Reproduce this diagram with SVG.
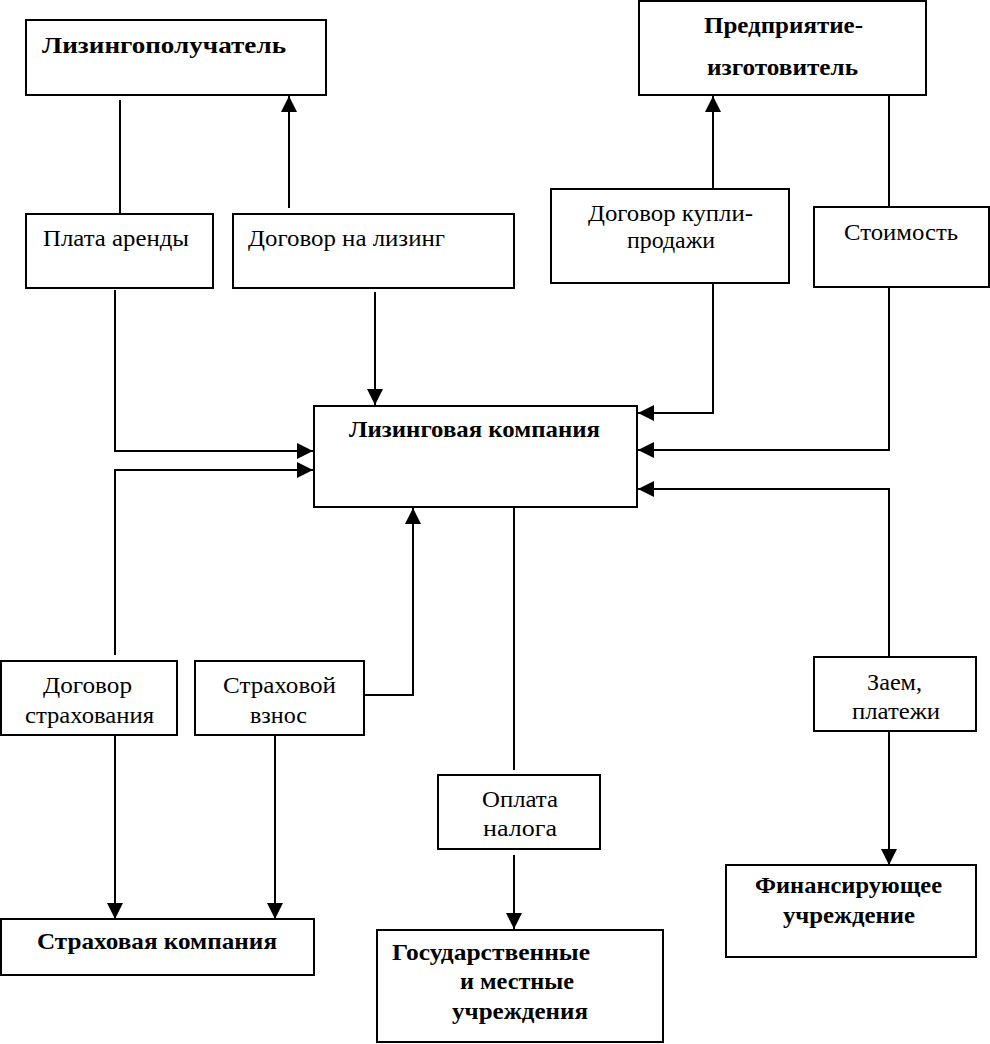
<svg xmlns="http://www.w3.org/2000/svg" width="990" height="1044" viewBox="0 0 990 1044" font-family="Liberation Serif, serif">
<style>
rect{fill:#fff;stroke:#000;stroke-width:2}
text{font-family:"Liberation Serif","Times New Roman",serif;font-size:24px;fill:#000}
.b{font-weight:bold}
#connectors path,#connectors line{fill:none;stroke:#000;stroke-width:2}
</style>
<defs>
<marker id="ah" markerWidth="16" markerHeight="16" refX="16" refY="8" orient="auto" markerUnits="userSpaceOnUse">
<path d="M0,0 L16,8 L0,16 Z" fill="#000"/>
</marker>
</defs>
<rect x="0" y="0" width="990" height="1044" style="stroke:none"/>
<g id="connectors">
<line x1="120" y1="100" x2="120" y2="214"/>
<line x1="289" y1="208" x2="289" y2="96" marker-end="url(#ah)"/>
<line x1="375" y1="292" x2="375" y2="405" marker-end="url(#ah)"/>
<path d="M115,290 V451 H313" marker-end="url(#ah)"/>
<path d="M115,655 V470 H313" marker-end="url(#ah)"/>
<path d="M364,695 H413 V508" marker-end="url(#ah)"/>
<line x1="713" y1="189" x2="713" y2="96" marker-end="url(#ah)"/>
<path d="M713,283 V413 H638" marker-end="url(#ah)"/>
<line x1="889" y1="95" x2="889" y2="207"/>
<path d="M889,282 V450 H638" marker-end="url(#ah)"/>
<path d="M889,657 V489 H638" marker-end="url(#ah)"/>
<line x1="889" y1="731" x2="889" y2="865" marker-end="url(#ah)"/>
<line x1="514" y1="507" x2="514" y2="770"/>
<line x1="514" y1="855" x2="514" y2="929" marker-end="url(#ah)"/>
<line x1="115" y1="735" x2="115" y2="919" marker-end="url(#ah)"/>
<line x1="275" y1="735" x2="275" y2="919" marker-end="url(#ah)"/>
</g>
<g id="lizingopoluchatel"><rect x="26" y="20" width="300" height="75"/><text class="b" x="42" y="53" textLength="244" lengthAdjust="spacingAndGlyphs">Лизингополучатель</text></g>
<g id="predpriyatie"><rect x="639" y="1" width="287" height="94"/><text class="b" x="704" y="33" textLength="159" lengthAdjust="spacingAndGlyphs">Предприятие-</text><text class="b" x="707" y="75" textLength="151" lengthAdjust="spacingAndGlyphs">изготовитель</text></g>
<g id="plata"><rect x="26" y="214" width="187" height="74"/><text x="43" y="246" textLength="146" lengthAdjust="spacingAndGlyphs">Плата аренды</text></g>
<g id="dogovor-lizing"><rect x="233" y="214" width="281" height="74"/><text x="248" y="246" textLength="197" lengthAdjust="spacingAndGlyphs">Договор на лизинг</text></g>
<g id="dogovor-kupli"><rect x="551" y="189" width="238" height="94"/><text x="588" y="221" textLength="165" lengthAdjust="spacingAndGlyphs">Договор купли-</text><text x="627" y="248" textLength="88" lengthAdjust="spacingAndGlyphs">продажи</text></g>
<g id="stoimost"><rect x="814" y="207" width="175" height="80"/><text x="844" y="240" textLength="114" lengthAdjust="spacingAndGlyphs">Стоимость</text></g>
<g id="lizing-kompaniya"><rect x="314" y="406" width="323" height="101"/><text class="b" x="349" y="437" textLength="251" lengthAdjust="spacingAndGlyphs">Лизинговая компания</text></g>
<g id="dogovor-strah"><rect x="1" y="661" width="176" height="74"/><text x="43" y="693" textLength="89" lengthAdjust="spacingAndGlyphs">Договор</text><text x="25" y="723" textLength="129" lengthAdjust="spacingAndGlyphs">страхования</text></g>
<g id="strah-vznos"><rect x="195" y="661" width="169" height="74"/><text x="223" y="693" textLength="113" lengthAdjust="spacingAndGlyphs">Страховой</text><text x="250" y="723" textLength="57" lengthAdjust="spacingAndGlyphs">взнос</text></g>
<g id="oplata"><rect x="438" y="775" width="162" height="74"/><text x="482" y="807" textLength="76" lengthAdjust="spacingAndGlyphs">Оплата</text><text x="483" y="836" textLength="74" lengthAdjust="spacingAndGlyphs">налога</text></g>
<g id="zaem"><rect x="814" y="657" width="162" height="74"/><text x="867" y="690" textLength="55" lengthAdjust="spacingAndGlyphs">Заем,</text><text x="852" y="719" textLength="88" lengthAdjust="spacingAndGlyphs">платежи</text></g>
<g id="strah-kompaniya"><rect x="1" y="919" width="313" height="56"/><text class="b" x="37" y="949" textLength="240" lengthAdjust="spacingAndGlyphs">Страховая компания</text></g>
<g id="gos"><rect x="377" y="930" width="286" height="112"/><text class="b" x="392" y="960" textLength="198" lengthAdjust="spacingAndGlyphs">Государственные</text><text class="b" x="460" y="989" textLength="114" lengthAdjust="spacingAndGlyphs">и местные</text><text class="b" x="452" y="1019" textLength="136" lengthAdjust="spacingAndGlyphs">учреждения</text></g>
<g id="finans"><rect x="726" y="865" width="250" height="92"/><text class="b" x="755" y="893" textLength="187" lengthAdjust="spacingAndGlyphs">Финансирующее</text><text class="b" x="783" y="923" textLength="132" lengthAdjust="spacingAndGlyphs">учреждение</text></g>
</svg>
